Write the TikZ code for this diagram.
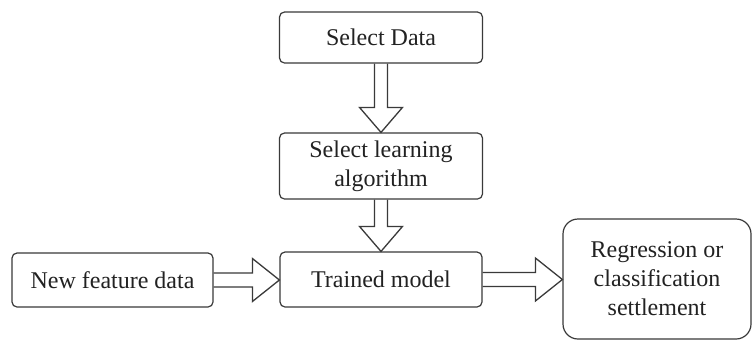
\documentclass[tikz,border=0pt]{standalone}
\usepackage{fontspec}
\setmainfont{Liberation Serif}
\usetikzlibrary{calc}
\definecolor{lineclr}{HTML}{3A3A3A}
\definecolor{txtclr}{HTML}{222222}
\tikzset{
  box/.style={draw=lineclr, line width=1.2pt, rounded corners=5pt, fill=white,
    text=txtclr, align=center, inner sep=0pt,
    font=\fontsize{24}{29}\selectfont},
  bigbox/.style={box, rounded corners=15pt},
  arrowline/.style={draw=lineclr, line width=1.3pt, line join=miter}
}
\newcommand\vblockarrow[2]{%
  \draw[arrowline] let \p1=(#1.south), \p2=(#2.north) in
    (\x1-6.5pt,\y1) -- (\x1-6.5pt,\y2+25pt) -- (\x1-21.5pt,\y2+25pt) -- (\x1,\y2)
    -- (\x1+21.5pt,\y2+25pt) -- (\x1+6.5pt,\y2+25pt) -- (\x1+6.5pt,\y1);}
\newcommand\hblockarrow[2]{%
  \draw[arrowline] let \p1=(#1.east), \p2=(#2.west) in
    (\x1,\y1+7pt) -- (\x2-27pt,\y1+7pt) -- (\x2-27pt,\y1+21.5pt) -- (\x2,\y1)
    -- (\x2-27pt,\y1-21.5pt) -- (\x2-27pt,\y1-7pt) -- (\x1,\y1-7pt);}
\begin{document}
\begin{tikzpicture}[x=1pt,y=-1pt]
  \path[fill=white] (0,0) rectangle (753,341);
  \useasboundingbox (0,0) rectangle (753,341);
  \node[box, minimum width=203pt, minimum height=51pt] (sd) at (381,37.5) {Select Data};
  \node[box, minimum width=203pt, minimum height=66pt] (sl) at (381,166) {Select learning\\algorithm};
  \node[box, minimum width=202pt, minimum height=55pt] (tm) at (381,279.5) {Trained model};
  \node[box, minimum width=201pt, minimum height=54pt] (nf) at (112.5,280) {New feature data};
  \node[bigbox, minimum width=188pt, minimum height=120pt] (rg) at (657,279) {Regression or\\classification\\settlement};
  \vblockarrow{sd}{sl}
  \vblockarrow{sl}{tm}
  \hblockarrow{nf}{tm}
  \hblockarrow{tm}{rg}
\end{tikzpicture}
\end{document}
